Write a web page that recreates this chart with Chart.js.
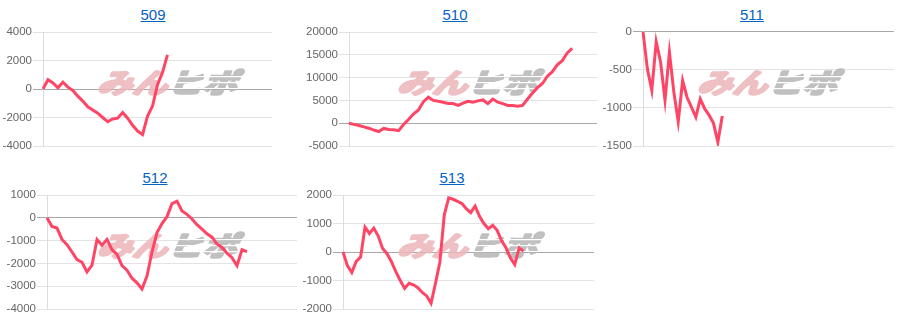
<!DOCTYPE html>
<html>
<head>
<meta charset="utf-8">
<script src="https://cdn.jsdelivr.net/npm/chart.js@4.4.0/dist/chart.umd.min.js"></script>
<style>
  body { margin: 0; background: #fff; width: 900px; height: 326px; overflow: hidden; position: relative; font-family: "Liberation Sans", Arial, sans-serif; }
  .ttl { position: absolute; width: 300px; text-align: center; font-size: 15px; line-height: 17px; }
  .ttl a { color: #0563c1; text-decoration: underline; }
  .box { position: absolute; width: 300px; height: 138px; }
</style>
</head>
<body>
<div class="ttl" style="left:3px;top:6px"><a href="#">509</a></div>
<div class="ttl" style="left:305px;top:6px"><a href="#">510</a></div>
<div class="ttl" style="left:602px;top:6px"><a href="#">511</a></div>
<div class="ttl" style="left:5px;top:169px"><a href="#">512</a></div>
<div class="ttl" style="left:302px;top:169px"><a href="#">513</a></div>

<div class="box" style="left:0;top:25px"><canvas id="c509" width="300" height="138"></canvas></div>
<div class="box" style="left:300px;top:25px"><canvas id="c510" width="300" height="138"></canvas></div>
<div class="box" style="left:600px;top:25px"><canvas id="c511" width="300" height="138"></canvas></div>
<div class="box" style="left:0;top:188px"><canvas id="c512" width="300" height="138"></canvas></div>
<div class="box" style="left:300px;top:188px"><canvas id="c513" width="300" height="138"></canvas></div>

<script>
// number of x slots on each chart (labels are hidden)
const slots509 = 47;
const slots510 = 51;
const slots511 = 58;
const slots512 = 51;
const slots513 = 58;

const values509 = [0, 650, 420, 80, 480, 130, -100, -500, -850, -1250, -1480, -1700, -2000, -2300, -2100, -2050, -1650, -2050, -2550, -2950, -3200, -1900, -1200, 300, 1150, 2400];
const values510 = [0, -250, -500, -800, -1100, -1500, -1850, -1150, -1400, -1450, -1650, -300, 800, 2000, 2900, 4700, 5700, 5000, 4800, 4600, 4300, 4300, 3900, 4400, 4800, 4600, 4900, 5100, 4300, 5300, 4600, 4300, 3900, 3900, 3700, 3900, 5300, 6600, 7800, 8700, 10300, 11300, 12800, 13700, 15400, 16400];
const values511 = [0, -490, -770, -130, -400, -900, -270, -790, -1180, -640, -860, -990, -1120, -880, -1010, -1095, -1200, -1450, -1105];
const values512 = [0, -380, -450, -950, -1180, -1500, -1830, -1950, -2370, -2080, -950, -1200, -950, -1400, -1600, -2100, -2300, -2650, -2850, -3120, -2550, -1500, -650, -250, 50, 620, 730, 300, 150, -50, -300, -500, -700, -850, -1150, -1300, -1550, -1750, -2100, -1400, -1480];
const values513 = [0, -480, -720, -330, -180, 870, 650, 840, 560, 120, -60, -340, -690, -1000, -1280, -1100, -1150, -1250, -1420, -1540, -1800, -1100, -350, 1300, 1900, 1850, 1780, 1700, 1520, 1380, 1610, 1250, 1000, 820, 940, 760, 400, 150, -200, -440, 140, 30];

// y axis ranges [min, max, step]
const range509 = [-4000, 4000, 2000];
const range510 = [-5000, 20000, 5000];
const range511 = [-1500, 0, 500];
const range512 = [-4000, 1000, 1000];
const range513 = [-2000, 2000, 1000];

const LINE = '#ff4565';

// watermark "みんヒポ" drawn once on a small canvas
function buildMark() {
  const c = document.createElement('canvas');
  c.width = 170; c.height = 40;
  const g = c.getContext('2d');
  g.font = 'bold 32px "Noto Sans CJK JP"';
  g.textBaseline = 'middle';
  g.lineJoin = 'round';
  g.lineWidth = 3;
  const w1 = g.measureText('みん').width;
  const w2 = g.measureText('ヒポ').width;
  const sx = 140 / (w1 + w2);
  g.setTransform(sx, 0, -0.35, 0.85, 18, 21);
  g.fillStyle = g.strokeStyle = 'rgb(236,182,186)';
  g.fillText('みん', 0, 0);
  g.strokeText('みん', 0, 0);
  g.fillStyle = g.strokeStyle = 'rgb(182,182,182)';
  g.fillText('ヒポ', w1, 0);
  g.strokeText('ヒポ', w1, 0);
  g.setTransform(1, 0, 0, 1, 0, 0);
  g.globalCompositeOperation = 'destination-out';
  [14, 20, 26].forEach(y => g.fillRect(86, y, 84, 1.2));
  return c;
}
const mark = buildMark();

const watermark = {
  id: 'watermark',
  beforeDatasetsDraw(chart) {
    const ctx = chart.ctx;
    ctx.save();
    ctx.globalAlpha = 0.85;
    ctx.drawImage(mark, 168 - 85, 57 - 20);
    ctx.restore();
  }
};

function makeChart(id, slots, values, range, axisW, padTop, padRight) {
  const labels = Array.from({ length: slots }, (_, i) => i + 1);
  return new Chart(document.getElementById(id), {
    type: 'line',
    data: {
      labels: labels,
      datasets: [{
        data: values,
        borderColor: LINE,
        borderWidth: 3,
        pointRadius: 0,
        tension: 0,
        fill: false
      }]
    },
    options: {
      responsive: false,
      animation: false,
      devicePixelRatio: 1,
      layout: { padding: { top: padTop, bottom: 17, left: 0, right: padRight } },
      plugins: { legend: { display: false }, tooltip: { enabled: false } },
      scales: {
        x: { display: false },
        y: {
          min: range[0],
          max: range[1],
          ticks: {
            stepSize: range[2],
            color: '#666',
            padding: 1,
            callback: v => String(v),
            font: { family: '"Liberation Sans", Arial, sans-serif', size: 11.5, lineHeight: 1 }
          },
          grid: {
            tickLength: 10,
            color: c => (c.tick && c.tick.value === 0) ? '#a8a8a8' : '#e3e3e3'
          },
          border: { color: '#dcdcdc' },
          afterFit: s => { s.width = axisW; }
        }
      }
    },
    plugins: [watermark]
  });
}

makeChart('c509', slots509, values509, range509, 43, 7, 28);
makeChart('c510', slots510, values510, range510, 49, 7, 3);
makeChart('c511', slots511, values511, range511, 43, 6, 6);
makeChart('c512', slots512, values512, range512, 47, 7, 3);
makeChart('c513', slots513, values513, range513, 43, 7, 6);
</script>
</body>
</html>
